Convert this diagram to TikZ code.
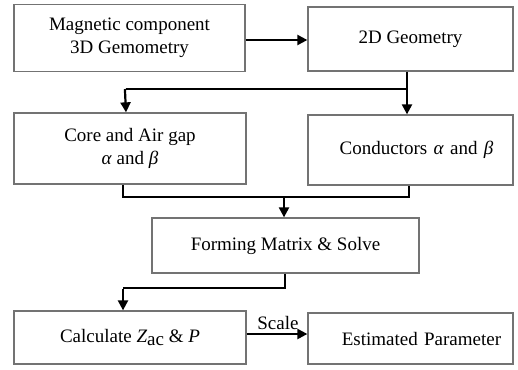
\documentclass[tikz,border=0pt]{standalone}
\usepackage{fontspec}
\setmainfont{Liberation Serif}
\usetikzlibrary{arrows.meta,calc}
\definecolor{boxgray}{rgb}{0.45,0.45,0.45}
\begin{document}
\begin{tikzpicture}[x=1pt,y=-1pt,
  box/.style={draw=boxgray,line width=1.3pt,fill=white,inner sep=0pt,align=center,
    font=\fontsize{19}{23}\selectfont},
  conn/.style={line width=2.2pt,black},
  arr/.style={conn,-{Triangle[length=10pt,width=10pt]}}]
\useasboundingbox (0,0) rectangle (518,369);
\node[box,minimum width=231pt,minimum height=67pt] (A) at (129.5,38) {Magnetic component\\3D Gemometry};
\node[box,minimum width=205pt,minimum height=64pt] (B) at (410.5,39) {2D Geometry};
\node[box,minimum width=232pt,minimum height=71pt] (C) at (130,148.5) {Core and Air gap\\\textit{α} and \textit{β}};
\node[box,minimum width=205pt,minimum height=70pt,text width=205pt] (D) at (410.5,150) {\hspace*{12pt}Conductors \textit{α} and \textit{β}};
\node[box,minimum width=267pt,minimum height=55pt] (E) at (285.5,245.5) {\raisebox{3pt}{Forming Matrix \& Solve}};
\node[box,minimum width=232pt,minimum height=53pt] (F) at (130,337.5) {Calculate \textit{Z}\raisebox{-0.4ex}{ac} \& \textit{P}};
\node[box,minimum width=205pt,minimum height=51pt,text width=205pt] (G) at (410.5,338.5) {\hspace*{22pt}Estimated Parameter};
\coordinate (br) at (407,89);
\coordinate (bl) at (126,89);
\coordinate (ml) at (123,197);
\coordinate (mr) at (409,197);
\coordinate (mm) at (284,197);
\coordinate (lr) at (285,288);
\coordinate (ll) at (123,288);
\draw[arr] (A.east |- 0,40) -- (B.west |- 0,40);
\draw[conn] (br |- B.south) -- (br) -- (bl);
\draw[arr] (br) -- (br |- D.north);
\draw[arr] ([xshift=-1.1pt]bl) -- (bl |- C.north);
\draw[conn] (ml |- C.south) -- (ml) -- (mr) -- (mr |- D.south);
\draw[arr] (mm) -- (mm |- E.north);
\draw[conn] (lr |- E.south) -- (lr) -- (ll);
\draw[arr] ([yshift=-1.1pt]ll) -- (ll |- F.north);
\draw[arr] (F.east |- 0,334) -- node[above=2pt,inner sep=1pt,font=\fontsize{19}{23}\selectfont,xshift=1pt]{Scale} (G.west |- 0,334);
\end{tikzpicture}
\end{document}
